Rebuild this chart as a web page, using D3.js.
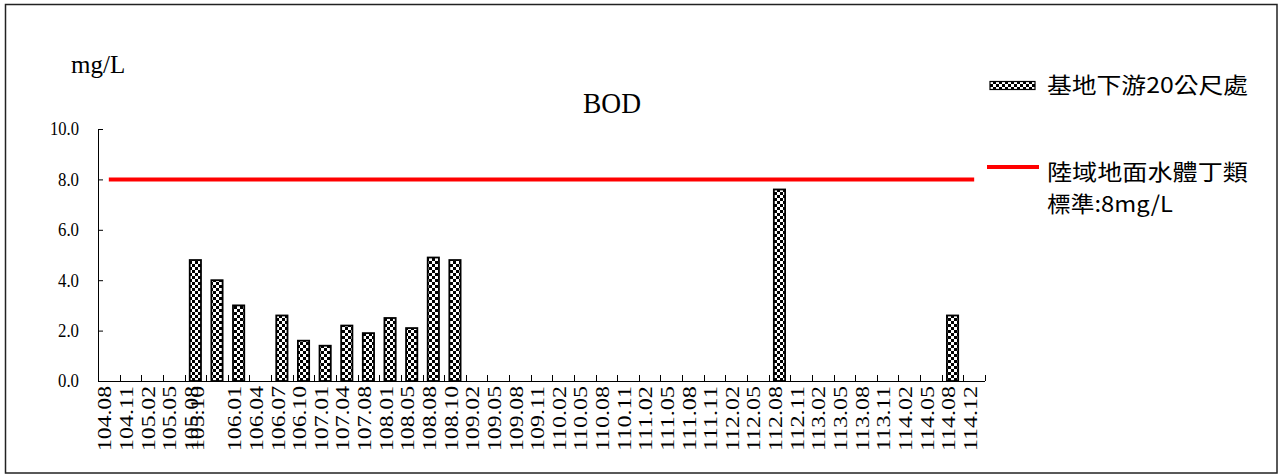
<!DOCTYPE html>
<html>
<head>
<meta charset="utf-8">
<script src="https://cdn.jsdelivr.net/npm/d3@7"></script>
<style>
  html, body { margin: 0; padding: 0; background: #fff; }
  svg { display: block; }
</style>
</head>
<body>
<svg id="chart" width="1279" height="475"></svg>
<script>
// ---- data ----
const categories = ["104.08","104.11","105.02","105.05","105.08","105.10","106.01","106.04","106.07","106.10",
  "107.01","107.04","107.08","108.01","108.05","108.08","108.10","109.02","109.05","109.08",
  "109.11","110.02","110.05","110.08","110.11","111.02","111.05","111.08","111.11","112.02",
  "112.05","112.08","112.11","113.02","113.05","113.08","113.11","114.02","114.05","114.08","114.12"];
const bodValues = [null,null,null,null,4.8,4.0,3.0,null,2.6,1.6,
  1.4,2.2,1.9,2.5,2.1,4.9,4.8,null,null,null,
  null,null,null,null,null,null,null,null,null,null,
  null,7.6,null,null,null,null,null,null,null,2.6,null];
const standardValue = 8;
const yTickValues = [0, 2, 4, 6, 8, 10];
const seriesName = "基地下游20公尺處";
const standardNameLines = ["陸域地面水體丁類", "標準:8mg/L"];
const chartTitle = "BOD";
const unitLabel = "mg/L";

// ---- setup ----
const svg = d3.select("#chart");
const serif = "Liberation Serif";
const cjk = "Noto Sans CJK TC";

const defs = svg.append("defs");
const pat = defs.append("pattern").attr("id", "checker")
  .attr("patternUnits", "userSpaceOnUse").attr("width", 6).attr("height", 6);
pat.append("rect").attr("width", 6).attr("height", 6).attr("fill", "#fff");
pat.append("rect").attr("x", 0).attr("y", 0).attr("width", 3).attr("height", 3).attr("fill", "#000");
pat.append("rect").attr("x", 3).attr("y", 3).attr("width", 3).attr("height", 3).attr("fill", "#000");

// frame
svg.append("rect").attr("x", 5.5).attr("y", 4.5).attr("width", 1271.5).attr("height", 468.5)
  .attr("fill", "#fff").attr("stroke", "#222").attr("stroke-width", 1.5);

const x = d3.scaleBand().domain(categories).range([98, 985]).padding(0);
const y = d3.scaleLinear().domain([0, 10]).range([381, 129]);
const barW = x.bandwidth() * 0.52;

// y axis (line + inward ticks)
const yAxis = d3.axisLeft(y).tickValues(yTickValues).tickFormat("")
  .tickSizeInner(-5).tickSizeOuter(0);
const gy = svg.append("g").attr("transform", "translate(98,0)").call(yAxis);
gy.select(".domain").attr("stroke", "#000").attr("stroke-width", 1);
gy.selectAll(".tick line").attr("stroke", "#000");
// y tick labels
const fmt = d3.format(".1f");
svg.append("g").selectAll("text").data(yTickValues).join("text")
  .attr("x", 79).attr("y", d => y(d)).attr("dy", "0.36em")
  .attr("text-anchor", "end")
  .attr("font-family", serif).attr("font-size", 18).attr("fill", "#000")
  .attr("textLength", d => d >= 10 ? 29 : 21).attr("lengthAdjust", "spacingAndGlyphs")
  .text(d => fmt(d));

// x axis line and ticks
svg.append("line").attr("x1", x.range()[0]).attr("x2", x.range()[1])
  .attr("y1", y(0) + 0.5).attr("y2", y(0) + 0.5).attr("stroke", "#000").attr("stroke-width", 1);
const boundaries = categories.map(c => x(c) + x.bandwidth());
svg.append("g").selectAll("line").data(boundaries).join("line")
  .attr("x1", d => Math.round(d) + 0.5).attr("x2", d => Math.round(d) + 0.5)
  .attr("y1", y(0)).attr("y2", y(0) - 6).attr("stroke", "#000");

// x labels
svg.append("g").selectAll("text").data(categories).join("text")
  .attr("transform", (d, i) => {
    // the reference draws the 105.10 label overlapping the previous one
    const shift = d === "105.10" ? -x.bandwidth() + 6 : 0;
    return `translate(${x(d) + x.bandwidth() / 2 - 4 + shift},386) rotate(-90)`;
  })
  .attr("text-anchor", "end").attr("dy", "0.35em")
  .attr("font-family", serif).attr("font-size", 19).attr("fill", "#000")
  .attr("textLength", 65).attr("lengthAdjust", "spacingAndGlyphs")
  .text(d => d);

// bars
const barData = categories.map((c, i) => ({ c, v: bodValues[i] })).filter(d => d.v != null);
svg.append("g").selectAll("rect").data(barData).join("rect")
  .attr("x", d => x(d.c) + x.bandwidth() / 2 - barW / 2)
  .attr("y", d => y(d.v))
  .attr("width", barW)
  .attr("height", d => y(0) - y(d.v))
  .attr("fill", "url(#checker)").attr("stroke", "#000").attr("stroke-width", 1.8);

// standard line
const line = d3.line().x(d => x(d) + x.bandwidth() / 2).y(() => y(standardValue));
svg.append("path").datum(categories).attr("d", line)
  .attr("fill", "none").attr("stroke", "#ff0000").attr("stroke-width", 4);

// title & unit
svg.append("text").attr("x", 612).attr("y", 113).attr("text-anchor", "middle")
  .attr("font-family", serif).attr("font-size", 29).attr("textLength", 58)
  .attr("lengthAdjust", "spacingAndGlyphs").text(chartTitle);
svg.append("text").attr("x", 71).attr("y", 73)
  .attr("font-family", serif).attr("font-size", 25).text(unitLabel);

// legend
svg.append("rect").attr("x", 990).attr("y", 81.5).attr("width", 45).attr("height", 8)
  .attr("fill", "url(#checker)").attr("stroke", "#000").attr("stroke-width", 1.2);
svg.append("text").attr("x", 1047).attr("y", 93).attr("font-family", cjk).attr("font-size", 22)
  .attr("textLength", 201).attr("lengthAdjust", "spacingAndGlyphs").text(seriesName);
svg.append("line").attr("x1", 987).attr("x2", 1039).attr("y1", 167).attr("y2", 167)
  .attr("stroke", "#ff0000").attr("stroke-width", 4);
svg.append("text").attr("x", 1047).attr("y", 180).attr("font-family", cjk).attr("font-size", 22)
  .attr("textLength", 201).attr("lengthAdjust", "spacingAndGlyphs").text(standardNameLines[0]);
svg.append("text").attr("x", 1047).attr("y", 212).attr("font-family", cjk).attr("font-size", 22)
  .attr("textLength", 126).attr("lengthAdjust", "spacingAndGlyphs").text(standardNameLines[1]);
</script>
</body>
</html>
